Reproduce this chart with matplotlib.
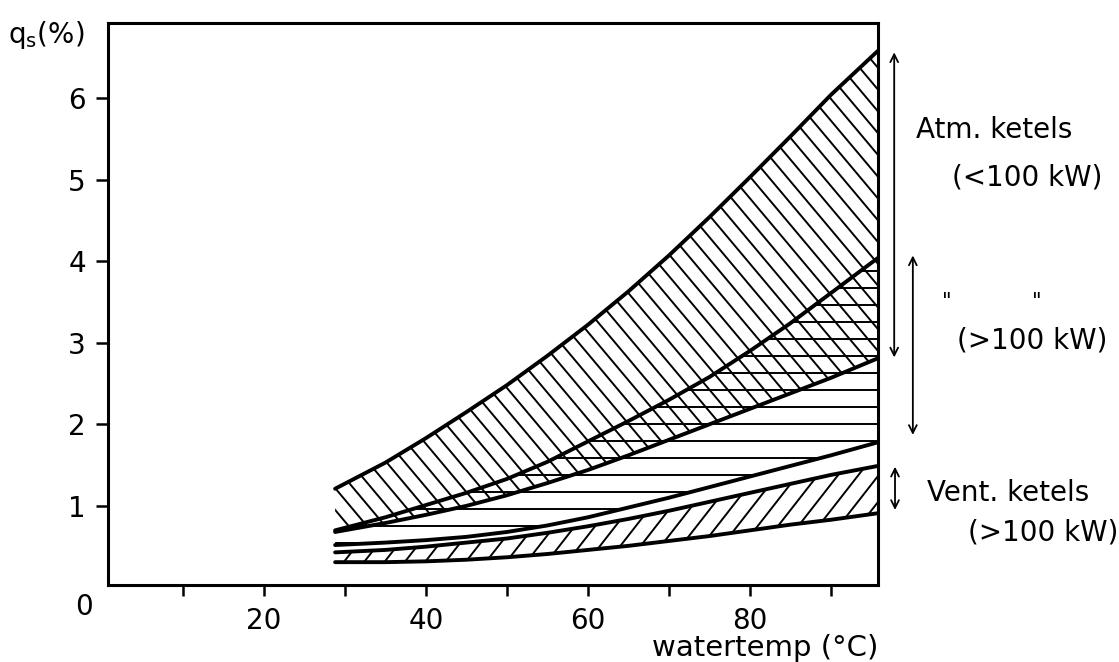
import numpy as np
import matplotlib
matplotlib.use('Agg')
import matplotlib.pyplot as plt
from matplotlib.collections import LineCollection

# water temperature (deg C) where the curves are read
temp = [28.8, 35, 40, 45, 50, 55, 60, 65, 70, 75, 80, 85, 90, 95.8]

# q_s (%) band limits
vent_low = [0.31, 0.31, 0.32, 0.34, 0.37, 0.41, 0.46, 0.51, 0.57, 0.63, 0.70, 0.77, 0.83, 0.91]
vent_high = [0.43, 0.46, 0.50, 0.55, 0.60, 0.67, 0.75, 0.84, 0.94, 1.05, 1.16, 1.27, 1.38, 1.49]
atm_big_low = [0.52, 0.55, 0.58, 0.62, 0.68, 0.76, 0.86, 0.98, 1.10, 1.23, 1.36, 1.49, 1.62, 1.78]
atm_small_low = [0.68, 0.79, 0.89, 1.00, 1.13, 1.28, 1.44, 1.62, 1.81, 2.00, 2.19, 2.38, 2.57, 2.81]
atm_big_high = [0.70, 0.86, 1.01, 1.16, 1.33, 1.54, 1.79, 2.04, 2.30, 2.58, 2.90, 3.24, 3.61, 4.04]
atm_small_high = [1.21, 1.53, 1.83, 2.15, 2.48, 2.84, 3.22, 3.63, 4.07, 4.54, 5.03, 5.53, 6.04, 6.58]

x_ticks = [20, 40, 60, 80]
x_minor = [10, 30, 50, 70, 90]
y_ticks = [1, 2, 3, 4, 5, 6]

# range arrows on the right: (x, bottom, top)
arrow_atm_small = (97.8, 2.82, 6.56)
arrow_atm_big = (100.1, 1.87, 4.07)
arrow_vent = (97.9, 0.95, 1.48)

W, H, DPI = 1119, 662, 100
plt.rcParams['font.family'] = ['DejaVu Sans']


def hatch(ax, x, lo, hi, angle, step, lw=1.4):
    # straight line hatching clipped to the band between lo and hi
    band = ax.fill_between(x, lo, hi, facecolor='none', edgecolor='none')
    bb = ax.bbox
    c = np.array([bb.x0 + bb.width / 2, bb.y0 + bb.height / 2])
    r = np.hypot(bb.width, bb.height)
    t = np.deg2rad(angle)
    d = np.array([np.cos(t), np.sin(t)])
    n = np.array([-np.sin(t), np.cos(t)])
    inv = ax.transData.inverted()
    segs = []
    for k in np.arange(-r, r, step):
        segs.append(inv.transform([c + k * n - r * d, c + k * n + r * d]))
    lc = LineCollection(segs, colors='k', linewidths=lw, zorder=1)
    ax.add_collection(lc, autolim=False)
    lc.set_clip_path(band.get_paths()[0], ax.transData)


fig = plt.figure(figsize=(W / DPI, H / DPI), dpi=DPI)
ax = fig.add_axes([108 / W, 1 - 585 / H, 770 / W, 562 / H])
ax.set_xlim(0.77, 95.8)
ax.set_ylim(0.03, 6.92)

hatch(ax, temp, atm_small_low, atm_small_high, -50, 14)
hatch(ax, temp, atm_big_low, atm_big_high, 0, 17)
hatch(ax, temp, vent_low, vent_high, 52, 16)

for curve in [vent_low, vent_high, atm_big_low, atm_small_low, atm_big_high, atm_small_high]:
    ax.plot(temp, curve, color='k', lw=2.8, solid_joinstyle='round', solid_capstyle='round', zorder=3)

for s in ax.spines.values():
    s.set_linewidth(2.2)

ax.set_xticks(x_ticks)
ax.set_xticks(x_minor, minor=True)
ax.set_yticks(y_ticks)
ax.tick_params(axis='both', which='both', direction='out', width=1.8, labelsize=20)
ax.tick_params(axis='x', which='both', length=8, pad=8)
ax.tick_params(axis='y', length=9, pad=7)

for xa, yb, yt in [arrow_atm_small, arrow_atm_big, arrow_vent]:
    ax.annotate('', xy=(xa, yt), xytext=(xa, yb), annotation_clip=False,
                arrowprops=dict(arrowstyle='<->', color='k', lw=1.3,
                                mutation_scale=14, shrinkA=0, shrinkB=0))

def ftext(px, py, s, **kw):
    fig.text(px / W, 1 - py / H, s, ha='center', va='center', **kw)

ftext(84, 607, '0', fontsize=20)
ftext(765, 648, 'watertemp (°C)', fontsize=21)
fig.text(8 / W, 1 - 35 / H, r'q$_\mathregular{s}$(%)', ha='left', va='center', fontsize=20)

ftext(994, 130, 'Atm. ketels', fontsize=20)
ftext(1027, 177, '(<100 kW)', fontsize=20)
ftext(947, 302, '"', fontsize=15)
ftext(1037, 302, '"', fontsize=15)
ftext(1032, 340, '(>100 kW)', fontsize=20)
ftext(1008, 493, 'Vent. ketels', fontsize=20)
ftext(1043, 533, '(>100 kW)', fontsize=20)

fig.savefig('out.png', dpi=DPI)
